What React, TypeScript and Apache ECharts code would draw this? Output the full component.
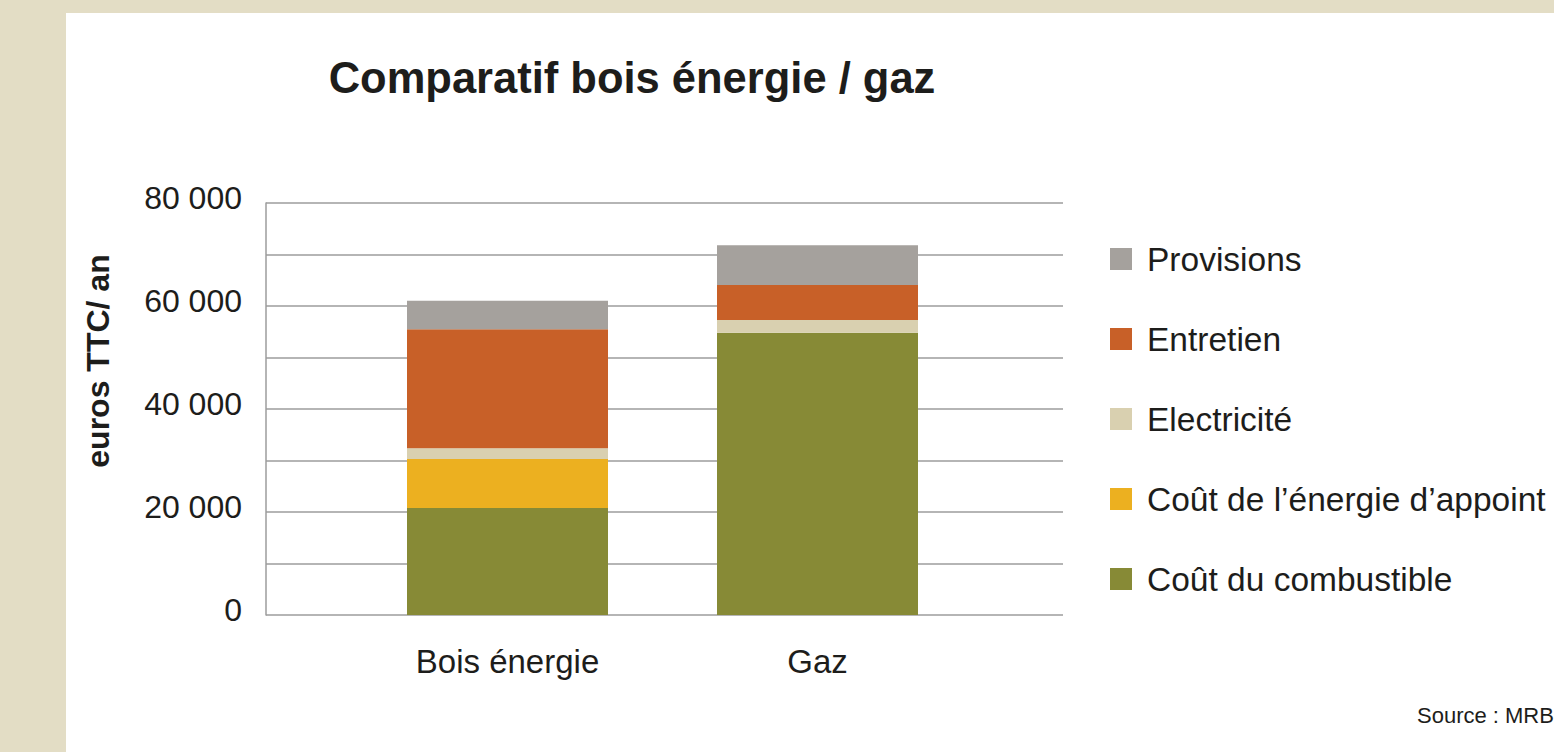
import React, { useEffect, useRef } from "react";
import * as echarts from "echarts";

const categories = ["Bois énergie", "Gaz"];
const combustible = [20800, 54800];
const appoint = [9500, 0];
const electricite = [2100, 2500];
const entretien = [23100, 6800];
const provisions = [5500, 7700];
const yLabelTicks = [0, 20000, 40000, 60000, 80000];

const seriesNames = {
  combustible: "Coût du combustible",
  appoint: "Coût de l’énergie d’appoint",
  electricite: "Electricité",
  entretien: "Entretien",
  provisions: "Provisions",
};

const FONT = "'Liberation Sans', Arial, Helvetica, sans-serif";
const TEXT = "#1d1d1b";
const GRIDC = "#9c9c9c";

function fmt(v: number): string {
  if (v === 0) return "0";
  return String(v / 1000) + " 000";
}

export default function App() {
  const ref = useRef<HTMLDivElement>(null);
  useEffect(() => {
    if (!ref.current) return;
    const chart = echarts.init(ref.current, undefined, { renderer: "svg" });
    const mk = (name: string, data: number[], color: string) => ({
      name,
      type: "bar",
      stack: "total",
      xAxisIndex: 1,
      yAxisIndex: 1,
      barWidth: 201,
      data,
      itemStyle: { color },
      emphasis: { disabled: true },
    });
    chart.setOption({
      animation: false,
      backgroundColor: "#E3DDC5",
      textStyle: { fontFamily: FONT },
      graphic: [
        {
          type: "rect",
          z: -10,
          silent: true,
          shape: { x: 66, y: 13, width: 1554 - 66, height: 752 - 13 },
          style: { fill: "#ffffff" },
        },
        {
          type: "text",
          x: 632,
          y: 78,
          style: {
            text: "Comparatif bois énergie / gaz",
            font: `bold 43.5px ${FONT}`,
            fill: TEXT,
            align: "center",
            verticalAlign: "middle",
          },
        },
        {
          type: "text",
          x: 98,
          y: 361,
          rotation: Math.PI / 2,
          style: {
            text: "euros TTC/ an",
            font: `bold 32px ${FONT}`,
            fill: TEXT,
            align: "center",
            verticalAlign: "middle",
          },
        },
        {
          type: "text",
          x: 1417,
          y: 715,
          style: {
            text: "Source : MRB",
            font: `22px ${FONT}`,
            fill: TEXT,
            align: "left",
            verticalAlign: "middle",
          },
        },
      ],
      grid: [
        { left: 266, right: 491, top: 203, bottom: 137 },
        { left: 352.5, right: 581.5, top: 203, bottom: 137 },
      ],
      legend: {
        orient: "vertical",
        left: 1110,
        top: 242,
        padding: 0,
        itemWidth: 22,
        itemHeight: 22,
        itemGap: 46,
        icon: "rect",
        selectedMode: false,
        data: [
          seriesNames.provisions,
          seriesNames.entretien,
          seriesNames.electricite,
          seriesNames.appoint,
          seriesNames.combustible,
        ],
        textStyle: {
          fontSize: 33.5,
          color: TEXT,
          fontFamily: FONT,
          lineHeight: 32,
          padding: [0, 0, 0, 10],
        },
      },
      xAxis: [
        { type: "category", gridIndex: 0, data: [""], show: false },
        {
          type: "category",
          gridIndex: 1,
          data: categories,
          axisLine: { show: false },
          axisTick: { show: false },
          axisLabel: { fontSize: 33, color: TEXT, margin: 30, fontFamily: FONT },
        },
      ],
      yAxis: [
        {
          type: "value",
          gridIndex: 0,
          min: 0,
          max: 80000,
          interval: 10000,
          axisLine: { show: true, lineStyle: { color: GRIDC, width: 1.5 } },
          axisTick: { show: false },
          splitLine: { show: true, lineStyle: { color: GRIDC, width: 1.5 } },
          axisLabel: {
            fontSize: 32,
            color: TEXT,
            margin: 24,
            fontFamily: FONT,
            verticalAlign: "bottom",
            lineHeight: 10,
            formatter: (v: number) => (yLabelTicks.indexOf(v) >= 0 ? fmt(v) : ""),
          },
        },
        { type: "value", gridIndex: 1, min: 0, max: 80000, show: false },
      ],
      series: [
        mk(seriesNames.combustible, combustible, "#878A36"),
        mk(seriesNames.appoint, appoint, "#ECB020"),
        mk(seriesNames.electricite, electricite, "#D9D0B0"),
        mk(seriesNames.entretien, entretien, "#C86028"),
        mk(seriesNames.provisions, provisions, "#A5A19D"),
      ],
    });
    return () => chart.dispose();
  }, []);
  return (
    <div
      ref={ref}
      style={{ position: "fixed", left: 0, top: 0, width: 1554, height: 752 }}
    />
  );
}
